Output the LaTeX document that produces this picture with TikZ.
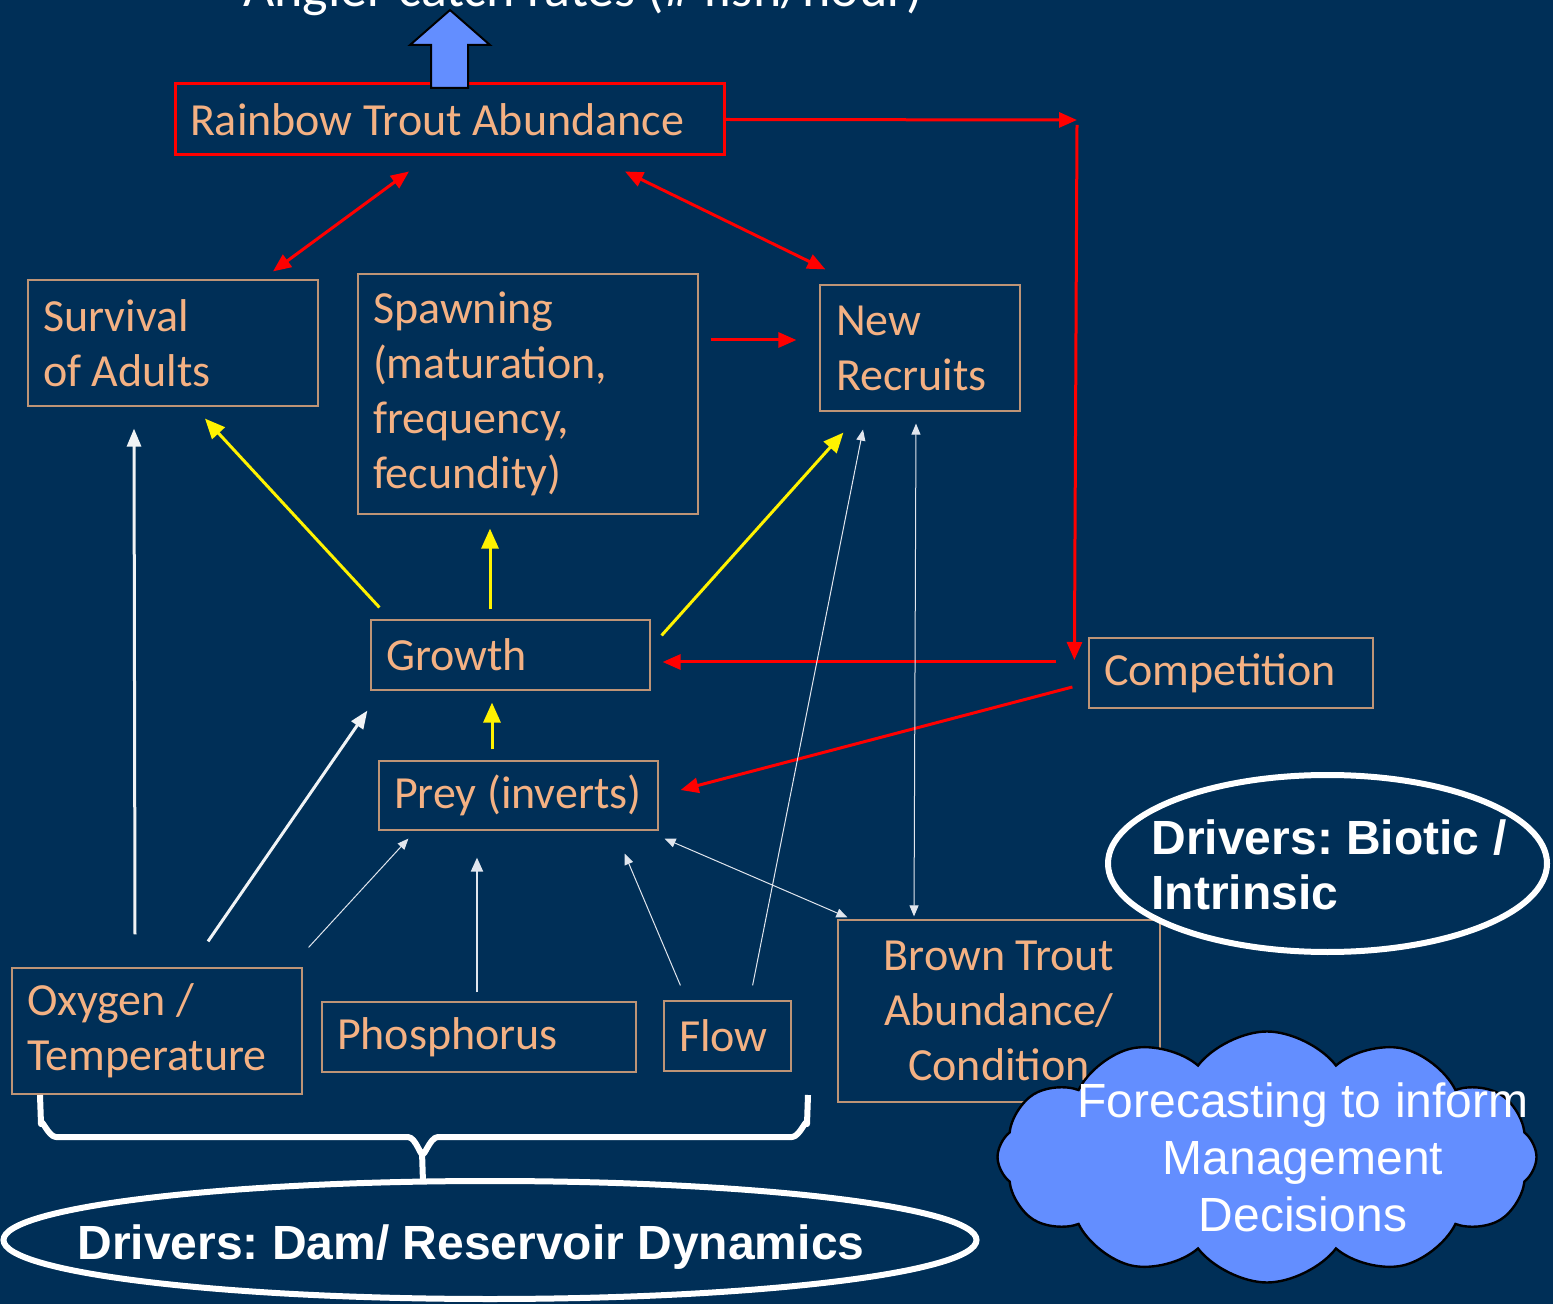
\documentclass[tikz,border=0pt]{standalone}
\usepackage{fontspec}
\setmainfont{Carlito}
\newfontfamily\arialfont{Liberation Sans}
\usetikzlibrary{arrows.meta,shapes.geometric,shapes.symbols}
\definecolor{bg}{RGB}{0,47,87}
\definecolor{peach}{RGB}{244,177,131}
\definecolor{boxline}{RGB}{190,148,118}
\definecolor{cloudblue}{RGB}{99,142,255}
\definecolor{paleline}{RGB}{225,230,238}
\frenchspacing
\begin{document}
\begin{tikzpicture}[x=0.5pt,y=-0.5pt,
  factor/.style={draw=boxline,line width=0.6pt,text=peach,font=\fontsize{23}{27.5}\selectfont,align=flush left,inner xsep=7.5pt,inner ysep=0pt},
  driver/.style={text=white,font=\arialfont\bfseries\fontsize{24}{27.5}\selectfont,align=flush left},
  redarr/.style={red,line width=1.5pt,-{Triangle[length=9pt,width=7.5pt]}},
  reddbl/.style={red,line width=1.5pt,{Triangle[length=9pt,width=7.5pt]}-{Triangle[length=9pt,width=7.5pt]}},
  yelarr/.style={yellow,line width=1.5pt,-{Triangle[length=10pt,width=8.5pt]}},
  whitearr/.style={white!94!bg,line width=1.5pt,-{Triangle[length=9pt,width=7pt]}},
  midarr/.style={paleline,line width=1pt,-{Triangle[length=7pt,width=6pt]}},
  thinarr/.style={paleline,line width=0.5pt,-{Triangle[length=5.5pt,width=4.5pt]}},
  thindbl/.style={paleline,line width=0.5pt,{Triangle[length=5.5pt,width=4.5pt]}-{Triangle[length=5.5pt,width=4.5pt]}}]
\path[use as bounding box,fill=bg] (0,0) rectangle (1553,1304);

\node[anchor=base,text=white,font=\fontsize{27}{30}\selectfont] (12) at (583,7) {Angler catch rates (\# fish/hour)};

\node[factor,draw=red,line width=1.5pt,text width=259.5pt,minimum height=35.5pt] (1) at (449.5,119.5) {Rainbow Trout Abundance};
\node[factor,text width=130pt,minimum height=63pt] (2) at (173,343) {Survival\\of Adults};
\node[factor,text width=155pt,minimum height=120pt] (3) at (528,394) {Spawning\\(maturation,\\frequency,\\fecundity)};
\node[factor,text width=84pt,inner xsep=8pt,minimum height=63pt] (4) at (920,348) {New\\Recruits};
\node[factor,text width=124.5pt,minimum height=35pt] (5) at (510.5,655) {Growth};
\node[factor,text width=127pt,minimum height=35pt] (6) at (1231,673) {Competition};
\node[factor,text width=124.5pt,minimum height=34.5pt] (7) at (518.5,795.5) {\mbox{Prey (inverts)}};
\node[factor,text width=130pt,minimum height=63pt] (8) at (157,1031) {Oxygen /\\Temperature};
\node[factor,text width=142pt,minimum height=35pt] (9) at (479,1037) {Phosphorus};
\node[factor,text width=48.5pt,minimum height=35pt] (10) at (727.5,1036) {Flow};
\node[factor,align=flush center,text width=146pt,minimum height=91pt] (11) at (999,1011) {Brown Trout\\Abundance/\\Condition};

% block arrow to catch rates
\draw[fill=cloudblue,line width=1pt] (431,88) -- (431,45) -- (410,45) -- (450,10) -- (490,45) -- (468,45) -- (468,88) -- cycle;

% red links
\coordinate (c) at (1077,120);
\path[draw,reddbl] ([shift={(100,-8)}]2.north) -- ([shift={(-40.5,15)}]1.south);
\path[draw,reddbl] ([shift={(175.5,15)}]1.south) -- ([shift={(6,-15)}]4.north west);
\path[draw,redarr] ([shift={(12,-54)}]3.east) -- ([shift={(-23,-8)}]4.west);
\path[draw,redarr] (1.east) -- (c);
\path[draw,redarr] ([shift={(0,5)}]c) -- ([shift={(-14,-13)}]6.west);
\path[draw,redarr] ([shift={(-32,-11)}]6.west) -- ([shift={(12,7)}]5.east);
\path[draw,redarr] ([shift={(-16,14)}]6.west) -- ([shift={(22,-5.5)}]7.east);

% yellow links
\path[draw,yelarr] ([shift={(9,-12)}]5.north west) -- ([shift={(32,12)}]2.south);
\path[draw,yelarr] ([shift={(-20.5,-10)}]5.north) -- ([shift={(-38,14)}]3.south);
\path[draw,yelarr] ([shift={(11,16)}]5.north east) -- ([shift={(24,21)}]4.south west);
\path[draw,yelarr] ([shift={(-26.5,-11)}]7.north) -- ([shift={(-18.5,12)}]5.south);

% white links
\path[draw,whitearr] ([shift={(-22,-33)}]8.north) -- ([shift={(-39,22)}]2.south);
\path[draw,whitearr] ([shift={(51,-26)}]8.north) -- ([shift={(-3,20)}]5.south west);
\path[draw,thinarr] ([shift={(6,-20)}]8.north east) -- ([shift={(30,8)}]7.south west);
\path[draw,midarr] ([shift={(-2,-9)}]9.north) -- ([shift={(-41.5,27)}]7.south);
\path[draw,thinarr] ([shift={(17,-15)}]10.north west) -- ([shift={(-34,23)}]7.south east);
\path[draw,thinarr] ([shift={(-39,-15)}]10.north east) -- ([shift={(-57,18)}]4.south);
\path[draw,thindbl] ([shift={(10,-2)}]11.north west) -- ([shift={(6,8)}]7.south east);
\path[draw,thindbl] ([shift={(-85,-3)}]11.north) -- ([shift={(-4,12)}]4.south);

% brace over the dam drivers
\draw[white,line width=3pt,line join=round] (40,1095) -- (41,1124) to[out=90,in=180] (56,1137) -- (408,1137) to[out=0,in=-90] (422,1152) -- (423,1182)
  (423,1152) to[out=-90,in=180] (438,1137) -- (792,1137) to[out=0,in=90] (807,1124) -- (808,1095);

% driver ellipses
\node[ellipse,draw=white,line width=3pt,minimum width=486.5pt,minimum height=59pt] (13) at (490,1240) {};
\node[driver] (16) at (471,1247) {Drivers: Dam/ Reservoir Dynamics};
\node[ellipse,draw=white,line width=3pt,minimum width=219.5pt,minimum height=88.5pt] (14) at (1327.5,863.5) {};
\node[driver] (18) at (1329,865) {Drivers: Biotic /\\Intrinsic};

% forecasting cloud
\node[cloud,cloud puffs=12,cloud puff arc=105,aspect=2.2,draw=black,fill=cloudblue,line width=1.2pt,minimum width=269.5pt,minimum height=125.5pt] (15) at (1267,1157) {};
\node[text=white,font=\arialfont\fontsize{24}{28.5}\selectfont,align=flush center] (17) at (1303,1157) {Forecasting to inform\\Management\\Decisions};
\end{tikzpicture}
\end{document}
